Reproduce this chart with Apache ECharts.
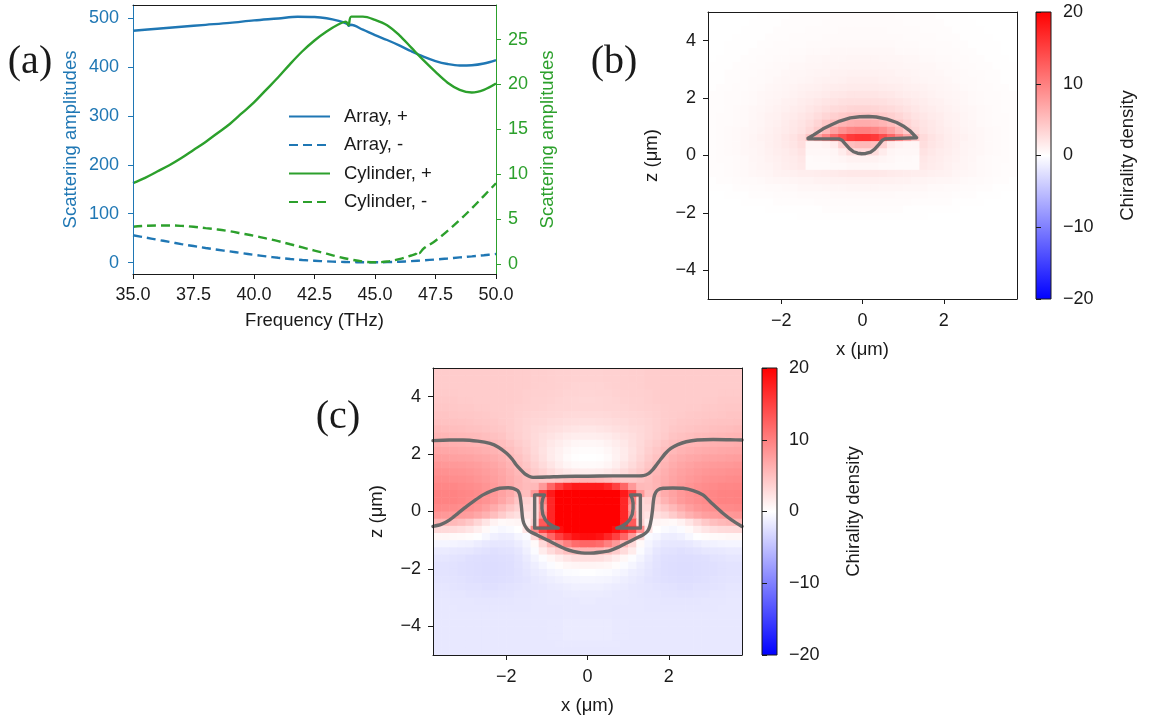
<!DOCTYPE html>
<html>
<head>
<meta charset="utf-8">
<script src="https://cdn.jsdelivr.net/npm/echarts@6/dist/echarts.min.js"></script>
<style>
  html, body { margin: 0; padding: 0; background: #ffffff; }
  #chart { width: 1156px; height: 724px; }
</style>
</head>
<body>
<div id="chart"></div>
<script>
// ---------- (a) scattering spectra ----------
const ARRAY_TICKS = [0, 100, 200, 300, 400, 500];
const CYL_TICKS = [0, 5, 10, 15, 20, 25];

const ARRAY_PLUS = [
  [35, 474], [36, 478], [37, 482], [38, 486], [39, 490], [40, 495], [41, 499],
  [41.8, 502.5], [42.5, 502], [43, 499.5], [43.5, 494], [43.85, 488], [43.92, 484],
  [44.0, 486], [44.5, 476], [45, 465], [45.5, 455], [46, 444], [46.5, 432], [47, 421],
  [47.5, 412], [48, 406], [48.5, 403], [49, 403.5], [49.5, 407], [50, 414]
];
const ARRAY_MINUS = [
  [35, 56], [35.5, 51.5], [36, 47], [36.5, 42.5], [37, 38], [37.5, 34], [38, 30],
  [38.5, 26.5], [39, 23], [39.5, 19.5], [40, 16], [40.5, 13], [41, 10], [41.5, 7.5],
  [42, 5.5], [42.5, 4], [43, 2.7], [43.5, 1.8], [44, 1.2], [44.5, 0.9], [45, 0.8],
  [45.5, 1.2], [46, 2], [46.5, 3.2], [47, 4.8], [47.5, 6.6], [48, 8.6], [48.5, 10.8],
  [49, 13], [49.5, 15.3], [50, 17.7]
];
const CYL_PLUS = [
  [35, 9.0], [35.5, 9.6], [36, 10.3], [36.5, 11.0], [37, 11.8], [37.5, 12.7], [38, 13.6],
  [38.5, 14.6], [39, 15.6], [39.5, 16.8], [40, 18.0], [40.5, 19.4], [41, 20.8], [41.5, 22.3],
  [42, 23.7], [42.5, 24.9], [43, 25.9], [43.5, 26.7], [43.8, 27.0], [43.9, 26.6],
  [44.02, 27.55], [44.5, 27.55], [45, 27.2], [45.5, 26.6], [46, 25.5], [46.5, 24.1],
  [47, 22.7], [47.5, 21.4], [48, 20.2], [48.5, 19.4], [49, 19.1], [49.5, 19.4], [50, 20.1]
];
const CYL_MINUS = [
  [35, 4.15], [35.5, 4.25], [36, 4.3], [36.5, 4.3], [37, 4.25], [37.5, 4.15], [38, 4.0],
  [38.5, 3.85], [39, 3.65], [39.5, 3.4], [40, 3.15], [40.5, 2.85], [41, 2.55], [41.5, 2.2],
  [42, 1.85], [42.5, 1.5], [43, 1.15], [43.5, 0.8], [44, 0.5], [44.5, 0.28], [45, 0.2],
  [45.5, 0.28], [46, 0.55], [46.5, 0.95], [46.7, 1.15], [46.78, 1.45], [46.82, 1.2],
  [47, 1.7], [47.5, 2.6], [48, 3.7], [48.5, 4.9], [49, 6.2], [49.5, 7.6], [50, 9.0]
];

// ---------- (b), (c) chirality density maps ----------
const X_TICKS = [-2, 0, 2];
const Z_TICKS = [-4, -2, 0, 2, 4];
const CBAR_TICKS = [-20, -10, 0, 10, 20];
const CBAR_RANGE = [-20, 20];
const BWR = ['#0000ff', '#ffffff', '#ff0000'];

const X_CENTERS = [-3.7, -3.5, -3.3, -3.1, -2.9, -2.7, -2.5, -2.3, -2.1, -1.9, -1.7, -1.5, -1.3,
  -1.1, -0.9, -0.7, -0.5, -0.3, -0.1, 0.1, 0.3, 0.5, 0.7, 0.9, 1.1, 1.3, 1.5, 1.7, 1.9, 2.1,
  2.3, 2.5, 2.7, 2.9, 3.1, 3.3, 3.5, 3.7];
const Z_CENTERS = [4.875, 4.625, 4.375, 4.125, 3.875, 3.625, 3.375, 3.125, 2.875, 2.625,
  2.375, 2.125, 1.875, 1.625, 1.375, 1.125, 0.875, 0.625, 0.375, 0.125,
  -0.125, -0.375, -0.625, -0.875, -1.125, -1.375, -1.625, -1.875, -2.125, -2.375,
  -2.625, -2.875, -3.125, -3.375, -3.625, -3.875, -4.125, -4.375, -4.625, -4.875];

// single cylinder (rows top to bottom, columns left to right)
const FIELD_B = [
  [0,0,0,0,0,0,0.1,0.1,0.1,0.1,0.2,0.2,0.2,0.2,0.2,0.3,0.3,0.3,0.3,0.3,0.3,0.3,0.3,0.2,0.2,0.2,0.2,0.2,0.1,0.1,0.1,0.1,0,0,0,0,0,0],
  [0,0,0,0,0,0.1,0.1,0.1,0.1,0.2,0.2,0.2,0.2,0.2,0.3,0.3,0.3,0.3,0.3,0.3,0.3,0.3,0.3,0.3,0.2,0.2,0.2,0.2,0.2,0.1,0.1,0.1,0.1,0,0,0,0,0],
  [0,0,0,0,0.1,0.1,0.1,0.1,0.2,0.2,0.2,0.2,0.3,0.3,0.3,0.3,0.4,0.4,0.4,0.4,0.4,0.4,0.3,0.3,0.3,0.3,0.2,0.2,0.2,0.2,0.1,0.1,0.1,0.1,0,0,0,0],
  [0,0,0,0.1,0.1,0.1,0.1,0.2,0.2,0.2,0.3,0.3,0.3,0.3,0.4,0.4,0.4,0.4,0.4,0.4,0.4,0.4,0.4,0.4,0.3,0.3,0.3,0.3,0.2,0.2,0.2,0.1,0.1,0.1,0.1,0,0,0],
  [0,0,0.1,0.1,0.1,0.1,0.2,0.2,0.3,0.3,0.3,0.3,0.4,0.4,0.4,0.5,0.5,0.5,0.5,0.5,0.5,0.5,0.5,0.4,0.4,0.4,0.3,0.3,0.3,0.3,0.2,0.2,0.1,0.1,0.1,0.1,0,0],
  [0,0,0.1,0.1,0.1,0.2,0.2,0.3,0.3,0.3,0.4,0.4,0.5,0.5,0.5,0.6,0.6,0.6,0.6,0.6,0.6,0.6,0.6,0.5,0.5,0.5,0.4,0.4,0.3,0.3,0.3,0.2,0.2,0.1,0.1,0.1,0,0],
  [0,0.1,0.1,0.1,0.2,0.2,0.3,0.3,0.4,0.4,0.5,0.5,0.6,0.6,0.7,0.7,0.7,0.8,0.8,0.8,0.8,0.7,0.7,0.7,0.6,0.6,0.5,0.5,0.4,0.4,0.3,0.3,0.2,0.2,0.1,0.1,0.1,0],
  [0.1,0.1,0.1,0.2,0.2,0.3,0.3,0.4,0.5,0.5,0.6,0.6,0.7,0.7,0.8,0.8,0.9,0.9,0.9,0.9,0.9,0.9,0.8,0.8,0.7,0.7,0.6,0.6,0.5,0.5,0.4,0.3,0.3,0.2,0.2,0.1,0.1,0.1],
  [0.1,0.1,0.2,0.2,0.3,0.3,0.4,0.5,0.5,0.6,0.7,0.7,0.8,0.9,0.9,1,1,1.1,1.1,1.1,1.1,1,1,0.9,0.9,0.8,0.7,0.7,0.6,0.5,0.5,0.4,0.3,0.3,0.2,0.2,0.1,0.1],
  [0.1,0.1,0.2,0.2,0.3,0.4,0.4,0.5,0.6,0.7,0.7,0.8,0.9,1,1.1,1.1,1.2,1.3,1.3,1.3,1.3,1.2,1.1,1.1,1,0.9,0.8,0.7,0.7,0.6,0.5,0.4,0.4,0.3,0.2,0.2,0.1,0.1],
  [0.1,0.2,0.2,0.3,0.3,0.4,0.5,0.6,0.7,0.8,0.9,1,1.1,1.2,1.3,1.4,1.5,1.6,1.6,1.6,1.6,1.5,1.4,1.3,1.2,1.1,1,0.9,0.8,0.7,0.6,0.5,0.4,0.3,0.3,0.2,0.2,0.1],
  [0.2,0.2,0.3,0.3,0.4,0.5,0.6,0.7,0.8,0.9,1,1.2,1.3,1.4,1.6,1.8,1.9,2,2,2,2,1.9,1.8,1.6,1.4,1.3,1.2,1,0.9,0.8,0.7,0.6,0.5,0.4,0.3,0.3,0.2,0.2],
  [0.2,0.2,0.3,0.3,0.4,0.5,0.6,0.8,0.9,1.1,1.2,1.4,1.6,1.8,2,2.2,2.4,2.5,2.5,2.5,2.5,2.4,2.2,2,1.8,1.6,1.4,1.2,1.1,0.9,0.8,0.6,0.5,0.4,0.3,0.3,0.2,0.2],
  [0.2,0.2,0.3,0.4,0.5,0.6,0.7,0.9,1,1.2,1.4,1.6,1.9,2.2,2.5,2.8,3,3.2,3.3,3.3,3.2,3,2.8,2.5,2.2,1.9,1.6,1.4,1.2,1,0.9,0.7,0.6,0.5,0.4,0.3,0.2,0.2],
  [0.2,0.3,0.3,0.4,0.5,0.6,0.8,1,1.1,1.4,1.6,1.9,2.2,2.7,3.2,3.7,4.1,4.4,4.5,4.5,4.4,4.1,3.7,3.2,2.7,2.2,1.9,1.6,1.4,1.1,1,0.8,0.6,0.5,0.4,0.3,0.3,0.2],
  [0.2,0.3,0.3,0.4,0.5,0.7,0.8,1,1.2,1.5,1.8,2.1,2.6,3.3,4.3,5.2,5.8,6.3,6.5,6.5,6.3,5.8,5.2,4.3,3.3,2.6,2.1,1.8,1.5,1.2,1,0.8,0.7,0.5,0.4,0.3,0.3,0.2],
  [0.2,0.3,0.4,0.5,0.6,0.7,0.9,1.1,1.3,1.6,1.9,2.3,3,4,5.6,7.3,8.6,9.6,10,10,9.6,8.6,7.3,5.6,4,3,2.3,1.9,1.6,1.3,1.1,0.9,0.7,0.6,0.5,0.4,0.3,0.2],
  [0.2,0.3,0.4,0.5,0.6,0.8,1,1.2,1.4,1.8,2.2,2.8,4.5,7,9.5,12,14,15.5,16,16,15.5,14,12,9.5,7,4.5,2.8,2.2,1.8,1.4,1.2,1,0.8,0.6,0.5,0.4,0.3,0.2],
  [0.2,0.3,0.4,0.5,0.6,0.8,0.9,1.2,1.4,1.7,2,2.6,0.8,0.8,1,1.5,3.5,5,5.5,5.5,5,3.5,1.5,1,0.8,0.8,2.6,2,1.7,1.4,1.2,0.9,0.8,0.6,0.5,0.4,0.3,0.2],
  [0.2,0.3,0.4,0.5,0.6,0.7,0.9,1.1,1.3,1.5,1.8,2.2,0.6,0.6,0.6,0.8,1.5,2.7,3,3,2.7,1.5,0.8,0.6,0.6,0.6,2.2,1.8,1.5,1.3,1.1,0.9,0.7,0.6,0.5,0.4,0.3,0.2],
  [0.2,0.3,0.3,0.4,0.5,0.7,0.8,1,1.2,1.4,1.6,1.9,0.4,0.5,0.5,0.6,0.8,1,1,1,1,0.8,0.6,0.5,0.5,0.4,1.9,1.6,1.4,1.2,1,0.8,0.7,0.5,0.4,0.3,0.3,0.2],
  [0.2,0.2,0.3,0.4,0.5,0.6,0.8,0.9,1.1,1.3,1.5,1.7,0.4,0.4,0.4,0.5,0.5,0.6,0.6,0.6,0.6,0.5,0.5,0.4,0.4,0.4,1.7,1.5,1.3,1.1,0.9,0.8,0.6,0.5,0.4,0.3,0.2,0.2],
  [0.2,0.2,0.3,0.4,0.5,0.6,0.7,0.8,1,1.1,1.2,1.3,1.3,1.4,1.5,1.6,1.7,1.8,1.8,1.8,1.8,1.7,1.6,1.5,1.4,1.3,1.3,1.2,1.1,1,0.8,0.7,0.6,0.5,0.4,0.3,0.2,0.2],
  [0.1,0.2,0.2,0.3,0.4,0.4,0.5,0.6,0.7,0.7,0.8,0.9,0.9,1,1,1.1,1.1,1.2,1.2,1.2,1.2,1.1,1.1,1,1,0.9,0.9,0.8,0.7,0.7,0.6,0.5,0.4,0.4,0.3,0.2,0.2,0.1],
  [0.1,0.1,0.1,0.2,0.2,0.3,0.3,0.4,0.4,0.5,0.5,0.6,0.6,0.6,0.7,0.7,0.7,0.8,0.8,0.8,0.8,0.7,0.7,0.7,0.6,0.6,0.6,0.5,0.5,0.4,0.4,0.3,0.3,0.2,0.2,0.1,0.1,0.1],
  [0,0,0.1,0.1,0.1,0.2,0.2,0.2,0.3,0.3,0.3,0.4,0.4,0.4,0.4,0.5,0.5,0.5,0.5,0.5,0.5,0.5,0.5,0.4,0.4,0.4,0.4,0.3,0.3,0.3,0.2,0.2,0.2,0.1,0.1,0.1,0,0],
  [0,0,0,0,0.1,0.1,0.1,0.1,0.2,0.2,0.2,0.2,0.2,0.3,0.3,0.3,0.3,0.3,0.3,0.3,0.3,0.3,0.3,0.3,0.3,0.2,0.2,0.2,0.2,0.2,0.1,0.1,0.1,0.1,0,0,0,0],
  [0,0,0,0,0,0,0,0.1,0.1,0.1,0.1,0.1,0.1,0.1,0.2,0.2,0.2,0.2,0.2,0.2,0.2,0.2,0.2,0.2,0.1,0.1,0.1,0.1,0.1,0.1,0.1,0,0,0,0,0,0,0],
  [0,0,0,0,0,0,0,0,0,0,0,0.1,0.1,0.1,0.1,0.1,0.1,0.1,0.1,0.1,0.1,0.1,0.1,0.1,0.1,0.1,0.1,0,0,0,0,0,0,0,0,0,0,0],
  [0,0,0,0,0,0,0,0,0,0,0,0,0,0,0,0,0,0,0,0,0,0,0,0,0,0,0,0,0,0,0,0,0,0,0,0,0,0],
  [0,0,0,0,0,0,0,0,0,0,0,0,0,0,0,0,0,0,0,0,0,0,0,0,0,0,0,0,0,0,0,0,0,0,0,0,0,0],
  [0,0,0,0,0,0,0,0,0,0,0,0,0,0,0,0,0,0,0,0,0,0,0,0,0,0,0,0,0,0,0,0,0,0,0,0,0,0],
  [0,0,0,0,0,0,0,0,0,0,0,0,0,0,0,0,0,0,0,0,0,0,0,0,0,0,0,0,0,0,0,0,0,0,0,0,0,0],
  [0,0,0,0,0,0,0,0,0,0,0,0,0,0,0,0,0,0,0,0,0,0,0,0,0,0,0,0,0,0,0,0,0,0,0,0,0,0],
  [0,0,0,0,0,0,0,0,0,0,0,0,0,0,0,0,0,0,0,0,0,0,0,0,0,0,0,0,0,0,0,0,0,0,0,0,0,0],
  [0,0,0,0,0,0,0,0,0,0,0,0,0,0,0,0,0,0,0,0,0,0,0,0,0,0,0,0,0,0,0,0,0,0,0,0,0,0],
  [0,0,0,0,0,0,0,0,0,0,0,0,0,0,0,0,0,0,0,0,0,0,0,0,0,0,0,0,0,0,0,0,0,0,0,0,0,0],
  [0,0,0,0,0,0,0,0,0,0,0,0,0,0,0,0,0,0,0,0,0,0,0,0,0,0,0,0,0,0,0,0,0,0,0,0,0,0],
  [0,0,0,0,0,0,0,0,0,0,0,0,0,0,0,0,0,0,0,0,0,0,0,0,0,0,0,0,0,0,0,0,0,0,0,0,0,0],
  [0,0,0,0,0,0,0,0,0,0,0,0,0,0,0,0,0,0,0,0,0,0,0,0,0,0,0,0,0,0,0,0,0,0,0,0,0,0]
];

// cylinder inside the array (rows top to bottom, columns left to right)
const FIELD_C = [
  [4,4,4,4,4,4,4,4,4,4,3.9,3.9,3.8,3.8,3.7,3.6,3.6,3.5,3.5,3.5,3.5,3.6,3.6,3.7,3.8,3.8,3.9,3.9,4,4,4,4,4,4,4,4,4,4],
  [4,4,4,4,4,4,4,4,4,4,3.9,3.9,3.8,3.8,3.7,3.6,3.6,3.5,3.5,3.5,3.5,3.6,3.6,3.7,3.8,3.8,3.9,3.9,4,4,4,4,4,4,4,4,4,4],
  [4,4,4,4,4,4,4,4,4,4,3.9,3.9,3.8,3.7,3.7,3.6,3.5,3.4,3.4,3.4,3.4,3.5,3.6,3.7,3.7,3.8,3.9,3.9,4,4,4,4,4,4,4,4,4,4],
  [4.1,4.1,4.1,4,4,4,4,4,4,4,3.9,3.8,3.7,3.7,3.6,3.5,3.4,3.4,3.3,3.3,3.4,3.4,3.5,3.6,3.7,3.7,3.8,3.9,4,4,4,4,4,4,4,4.1,4.1,4.1],
  [4.2,4.2,4.2,4.1,4.1,4,4,4,4,4,3.9,3.8,3.6,3.6,3.5,3.4,3.3,3.2,3.1,3.1,3.2,3.3,3.4,3.5,3.6,3.6,3.8,3.9,4,4,4,4,4,4.1,4.1,4.2,4.2,4.2],
  [4.4,4.4,4.3,4.2,4.2,4.1,4.1,4,4,3.9,3.8,3.7,3.6,3.5,3.4,3.3,3.3,3.2,3.2,3.2,3.2,3.3,3.3,3.4,3.5,3.6,3.7,3.8,3.9,4,4,4.1,4.1,4.2,4.2,4.3,4.4,4.4],
  [4.6,4.6,4.5,4.4,4.4,4.3,4.2,4.1,4,3.9,3.7,3.5,3.4,3.3,3.2,3.1,3,2.9,2.9,2.9,2.9,3,3.1,3.2,3.3,3.4,3.5,3.7,3.9,4,4.1,4.2,4.3,4.4,4.4,4.5,4.6,4.6],
  [4.9,4.8,4.8,4.7,4.6,4.5,4.4,4.3,4.1,3.9,3.6,3.4,3.2,3.1,2.9,2.8,2.7,2.6,2.5,2.5,2.6,2.7,2.8,2.9,3.1,3.2,3.4,3.6,3.9,4.1,4.3,4.4,4.5,4.6,4.7,4.8,4.8,4.9],
  [5.3,5.2,5.1,5,4.9,4.8,4.6,4.5,4.3,3.9,3.6,3.3,3,2.8,2.6,2.4,2.2,2,1.9,1.9,2,2.2,2.4,2.6,2.8,3,3.3,3.6,3.9,4.3,4.5,4.6,4.8,4.9,5,5.1,5.2,5.3],
  [5.8,5.7,5.6,5.5,5.4,5.3,5.1,4.9,4.6,4.1,3.7,3.3,2.9,2.5,2.2,1.9,1.6,1.4,1.3,1.3,1.4,1.6,1.9,2.2,2.5,2.9,3.3,3.7,4.1,4.6,4.9,5.1,5.3,5.4,5.5,5.6,5.7,5.8],
  [6.4,6.3,6.2,6.1,6,5.8,5.7,5.4,5.1,4.6,4,3.5,2.9,2.4,1.8,1.4,1,0.7,0.6,0.6,0.7,1,1.4,1.8,2.4,2.9,3.5,4,4.6,5.1,5.4,5.7,5.8,6,6.1,6.2,6.3,6.4],
  [7,6.9,6.8,6.7,6.6,6.4,6.2,6,5.6,5,4.4,3.8,3,2.3,1.6,1.1,0.6,0.3,0.2,0.2,0.3,0.6,1.1,1.6,2.3,3,3.8,4.4,5,5.6,6,6.2,6.4,6.6,6.7,6.8,6.9,7],
  [7.6,7.5,7.4,7.3,7.2,7,6.8,6.5,6.1,5.5,4.8,4.1,3.2,2.4,1.6,1,0.4,0.1,0,0,0.1,0.4,1,1.6,2.4,3.2,4.1,4.8,5.5,6.1,6.5,6.8,7,7.2,7.3,7.4,7.5,7.6],
  [8.2,8.1,8,7.9,7.8,7.6,7.3,7,6.5,5.9,5.2,4.5,3.6,2.8,2,1.3,0.8,0.5,0.4,0.4,0.5,0.8,1.3,2,2.8,3.6,4.5,5.2,5.9,6.5,7,7.3,7.6,7.8,7.9,8,8.1,8.2],
  [8.7,8.6,8.5,8.4,8.2,8,7.7,7.4,6.9,6.3,5.6,5,4.1,3.5,2.8,2.2,1.8,1.5,1.4,1.4,1.5,1.8,2.2,2.8,3.5,4.1,5,5.6,6.3,6.9,7.4,7.7,8,8.2,8.4,8.5,8.6,8.7],
  [9.1,9,8.9,8.8,8.6,8.3,8,7.6,7.1,6.5,5.9,5.2,4.6,4.3,4.3,4.6,5.2,5.6,5.8,5.8,5.6,5.2,4.6,4.3,4.3,4.6,5.2,5.9,6.5,7.1,7.6,8,8.3,8.6,8.8,8.9,9,9.1],
  [9.5,9.4,9.4,9.2,9,8.8,8.4,7.9,7.3,6.7,5.8,5.3,5.5,8,12,15,17,18,18,18,18,17,15,12,8,5.5,5.3,5.8,6.7,7.3,7.9,8.4,8.8,9,9.2,9.4,9.4,9.5],
  [9.8,9.7,9.7,9.5,9.3,9,8.6,8.1,7.3,6.6,5.3,5,8,15,18,20,20,20,20,20,20,20,20,18,15,8,5,5.3,6.6,7.3,8.1,8.6,9,9.3,9.5,9.7,9.7,9.8],
  [9.8,9.7,9.7,9.5,9.2,8.9,8.5,7.9,7,6,4.5,3.5,3,10,17,20,20,20,20,20,20,20,20,17,10,3,3.5,4.5,6,7,7.9,8.5,8.9,9.2,9.5,9.7,9.7,9.8],
  [9.3,9.2,9.1,8.9,8.6,8.2,7.5,6.6,5.5,4.5,3.5,3,3,8,17,20,20,20,20,20,20,20,20,17,8,3,3,3.5,4.5,5.5,6.6,7.5,8.2,8.6,8.9,9.1,9.2,9.3],
  [8.2,8.1,8,7.8,7.5,6.9,6.1,5.1,4,3,2.4,2.2,3,9,17,20,20,20,20,20,20,20,20,17,9,3,2.2,2.4,3,4,5.1,6.1,6.9,7.5,7.8,8,8.1,8.2],
  [6,5.8,5.5,5,4.3,3.2,2,1,0.5,0.6,0.8,1.2,3.5,13,17,20,20,20,20,20,20,20,20,17,13,3.5,1.2,0.8,0.6,0.5,1,2,3.2,4.3,5,5.5,5.8,6],
  [3,2.9,2.8,2.5,2,1.3,0.5,-0.3,-0.6,-0.4,0,2,9,15,17,19,20,20,20,20,20,20,19,17,15,9,2,0,-0.4,-0.6,-0.3,0.5,1.3,2,2.5,2.8,2.9,3],
  [0.6,0.6,0.5,0.4,0.2,-0.1,-0.6,-1.2,-1.4,-1.3,-0.8,-0.4,3,8,12,15,17,18.5,19,19,18.5,17,15,12,8,3,-0.4,-0.8,-1.3,-1.4,-1.2,-0.6,-0.1,0.2,0.4,0.5,0.6,0.6],
  [-0.8,-0.8,-0.9,-1,-1.1,-1.4,-1.7,-1.9,-1.9,-1.8,-1.4,-0.8,0.4,3,5.5,8,10,11.5,12,12,11.5,10,8,5.5,3,0.4,-0.8,-1.4,-1.8,-1.9,-1.9,-1.7,-1.4,-1.1,-1,-0.9,-0.8,-0.8],
  [-1.6,-1.6,-1.7,-1.8,-1.9,-2.1,-2.3,-2.4,-2.3,-2.2,-1.9,-1.2,-0.3,1.5,2.8,4,5,5.8,6,6,5.8,5,4,2.8,1.5,-0.3,-1.2,-1.9,-2.2,-2.3,-2.4,-2.3,-2.1,-1.9,-1.8,-1.7,-1.6,-1.6],
  [-2,-2,-2.1,-2.2,-2.4,-2.5,-2.6,-2.6,-2.5,-2.4,-2.1,-1.6,-0.9,-0.2,0.6,1.3,2,2.5,2.6,2.6,2.5,2,1.3,0.6,-0.2,-0.9,-1.6,-2.1,-2.4,-2.5,-2.6,-2.6,-2.5,-2.4,-2.2,-2.1,-2,-2],
  [-2.2,-2.2,-2.3,-2.4,-2.5,-2.6,-2.7,-2.7,-2.6,-2.5,-2.2,-1.8,-1.3,-0.8,-0.3,0.2,0.6,0.8,0.9,0.9,0.8,0.6,0.2,-0.3,-0.8,-1.3,-1.8,-2.2,-2.5,-2.6,-2.7,-2.7,-2.6,-2.5,-2.4,-2.3,-2.2,-2.2],
  [-2.2,-2.2,-2.3,-2.4,-2.5,-2.6,-2.7,-2.7,-2.6,-2.5,-2.3,-2,-1.6,-1.3,-0.9,-0.6,-0.3,-0.2,-0.1,-0.1,-0.2,-0.3,-0.6,-0.9,-1.3,-1.6,-2,-2.3,-2.5,-2.6,-2.7,-2.7,-2.6,-2.5,-2.4,-2.3,-2.2,-2.2],
  [-2.1,-2.1,-2.2,-2.3,-2.4,-2.5,-2.6,-2.6,-2.5,-2.4,-2.3,-2.1,-1.8,-1.6,-1.3,-1.1,-0.9,-0.8,-0.7,-0.7,-0.8,-0.9,-1.1,-1.3,-1.6,-1.8,-2.1,-2.3,-2.4,-2.5,-2.6,-2.6,-2.5,-2.4,-2.3,-2.2,-2.1,-2.1],
  [-2,-2,-2.1,-2.2,-2.3,-2.3,-2.4,-2.4,-2.3,-2.2,-2.1,-2,-1.9,-1.8,-1.6,-1.5,-1.3,-1.2,-1.2,-1.2,-1.2,-1.3,-1.5,-1.6,-1.8,-1.9,-2,-2.1,-2.2,-2.3,-2.4,-2.4,-2.3,-2.3,-2.2,-2.1,-2,-2],
  [-1.9,-1.9,-2,-2,-2.1,-2.1,-2.2,-2.2,-2.1,-2.1,-2,-2,-1.9,-1.8,-1.7,-1.7,-1.6,-1.5,-1.5,-1.5,-1.5,-1.6,-1.7,-1.7,-1.8,-1.9,-2,-2,-2.1,-2.1,-2.2,-2.2,-2.1,-2.1,-2,-2,-1.9,-1.9],
  [-1.8,-1.8,-1.9,-1.9,-1.9,-2,-2,-2,-2,-2,-1.9,-1.9,-1.8,-1.8,-1.7,-1.7,-1.7,-1.7,-1.6,-1.6,-1.7,-1.7,-1.7,-1.7,-1.8,-1.8,-1.9,-1.9,-2,-2,-2,-2,-2,-1.9,-1.9,-1.9,-1.8,-1.8],
  [-1.8,-1.8,-1.8,-1.9,-1.9,-1.9,-1.9,-1.9,-1.9,-1.9,-1.9,-1.9,-1.8,-1.8,-1.8,-1.8,-1.7,-1.7,-1.7,-1.7,-1.7,-1.7,-1.8,-1.8,-1.8,-1.8,-1.9,-1.9,-1.9,-1.9,-1.9,-1.9,-1.9,-1.9,-1.9,-1.8,-1.8,-1.8],
  [-1.8,-1.8,-1.8,-1.8,-1.8,-1.8,-1.8,-1.8,-1.8,-1.8,-1.8,-1.8,-1.8,-1.8,-1.8,-1.8,-1.7,-1.7,-1.7,-1.7,-1.7,-1.7,-1.8,-1.8,-1.8,-1.8,-1.8,-1.8,-1.8,-1.8,-1.8,-1.8,-1.8,-1.8,-1.8,-1.8,-1.8,-1.8],
  [-1.8,-1.8,-1.8,-1.8,-1.8,-1.8,-1.8,-1.8,-1.8,-1.8,-1.8,-1.8,-1.8,-1.8,-1.7,-1.7,-1.6,-1.6,-1.6,-1.6,-1.6,-1.6,-1.7,-1.7,-1.8,-1.8,-1.8,-1.8,-1.8,-1.8,-1.8,-1.8,-1.8,-1.8,-1.8,-1.8,-1.8,-1.8],
  [-1.8,-1.8,-1.8,-1.8,-1.8,-1.8,-1.8,-1.8,-1.8,-1.8,-1.8,-1.8,-1.8,-1.8,-1.7,-1.7,-1.6,-1.6,-1.6,-1.6,-1.6,-1.6,-1.7,-1.7,-1.8,-1.8,-1.8,-1.8,-1.8,-1.8,-1.8,-1.8,-1.8,-1.8,-1.8,-1.8,-1.8,-1.8],
  [-1.8,-1.8,-1.8,-1.8,-1.8,-1.8,-1.8,-1.8,-1.8,-1.8,-1.8,-1.8,-1.8,-1.8,-1.7,-1.7,-1.6,-1.6,-1.6,-1.6,-1.6,-1.6,-1.7,-1.7,-1.8,-1.8,-1.8,-1.8,-1.8,-1.8,-1.8,-1.8,-1.8,-1.8,-1.8,-1.8,-1.8,-1.8],
  [-1.8,-1.8,-1.8,-1.8,-1.8,-1.8,-1.8,-1.8,-1.8,-1.8,-1.8,-1.8,-1.8,-1.8,-1.8,-1.7,-1.7,-1.7,-1.7,-1.7,-1.7,-1.7,-1.7,-1.8,-1.8,-1.8,-1.8,-1.8,-1.8,-1.8,-1.8,-1.8,-1.8,-1.8,-1.8,-1.8,-1.8,-1.8],
  [-1.8,-1.8,-1.8,-1.8,-1.8,-1.8,-1.8,-1.8,-1.8,-1.8,-1.8,-1.8,-1.8,-1.8,-1.8,-1.8,-1.8,-1.8,-1.8,-1.8,-1.8,-1.8,-1.8,-1.8,-1.8,-1.8,-1.8,-1.8,-1.8,-1.8,-1.8,-1.8,-1.8,-1.8,-1.8,-1.8,-1.8,-1.8]
];

// outlines (x, z in µm)
const DOME_B = [
  [-1.34, 0.60], [-1.2, 0.72], [-0.97, 0.93], [-0.75, 1.08], [-0.56, 1.2], [-0.3, 1.31],
  [-0.07, 1.35], [0.15, 1.36], [0.34, 1.34], [0.6, 1.27], [0.84, 1.15], [1.0, 1.03],
  [1.16, 0.87], [1.33, 0.62], [1.33, 0.58], [0.55, 0.58], [0.48, 0.52], [0.4, 0.38],
  [0.3, 0.22], [0.2, 0.12], [0.08, 0.07], [-0.02, 0.06], [-0.12, 0.08], [-0.22, 0.13],
  [-0.32, 0.24], [-0.42, 0.4], [-0.5, 0.53], [-0.58, 0.58], [-1.34, 0.58], [-1.34, 0.60]
];
const UPPER_C = [
  [-3.8, 2.47], [-3.4, 2.49], [-3.06, 2.49], [-2.7, 2.45], [-2.4, 2.37], [-2.2, 2.25],
  [-1.99, 2.03], [-1.85, 1.82], [-1.75, 1.62], [-1.64, 1.45], [-1.54, 1.31], [-1.44, 1.23],
  [-1.34, 1.19], [-1.0, 1.2], [-0.6, 1.22], [0, 1.23], [0.6, 1.24], [1.1, 1.24], [1.37, 1.25],
  [1.5, 1.32], [1.6, 1.45], [1.7, 1.63], [1.8, 1.82], [1.92, 2.03], [2.05, 2.2], [2.22, 2.33],
  [2.43, 2.43], [2.7, 2.49], [3.09, 2.51], [3.5, 2.5], [3.8, 2.49]
];
const MIDDLE_C = [
  [-3.8, -0.52], [-3.6, -0.45], [-3.39, -0.29], [-3.2, -0.08], [-2.98, 0.17], [-2.78, 0.38],
  [-2.57, 0.58], [-2.36, 0.72], [-2.16, 0.81], [-1.95, 0.83], [-1.83, 0.81], [-1.72, 0.73],
  [-1.67, 0.6], [-1.64, 0.35], [-1.62, 0.1], [-1.6, -0.2], [-1.57, -0.4], [-1.5, -0.58],
  [-1.42, -0.69], [-1.3, -0.78], [-1.17, -0.87], [-0.95, -1.02], [-0.76, -1.16], [-0.55, -1.3],
  [-0.35, -1.39], [-0.15, -1.44], [0.06, -1.45], [0.3, -1.42], [0.55, -1.36], [0.76, -1.24],
  [0.96, -1.1], [1.17, -0.95], [1.37, -0.81], [1.48, -0.68], [1.53, -0.52], [1.57, -0.25],
  [1.6, 0.06], [1.62, 0.35], [1.65, 0.58], [1.72, 0.74], [1.86, 0.81], [2.1, 0.82],
  [2.35, 0.81], [2.6, 0.73], [2.84, 0.58], [3.05, 0.3], [3.33, -0.06], [3.55, -0.3], [3.8, -0.52]
];
const LEFT_BRACKET_C = [
  [-1.3, 0.58], [-1.06, 0.58], [-1.1, 0.45], [-1.12, 0.3], [-1.12, 0.1], [-1.1, -0.1],
  [-1.04, -0.28], [-0.95, -0.42], [-0.84, -0.52], [-0.72, -0.58], [-1.3, -0.58], [-1.3, 0.58]
];
const RIGHT_BRACKET_C = [
  [1.3, 0.58], [1.06, 0.58], [1.1, 0.45], [1.12, 0.3], [1.12, 0.1], [1.1, -0.1],
  [1.04, -0.28], [0.95, -0.42], [0.84, -0.52], [0.72, -0.58], [1.3, -0.58], [1.3, 0.58]
];

// ---------- styling ----------
const FONT = 'Liberation Sans';
const FS = 18;
const FS_NAME = 18.5;
const INK = '#1a1a1a';
const BLUE = '#1f77b4';
const GREEN = '#2ca02c';
const OUTLINE = '#696969';
const CELL_DX = X_CENTERS[1] - X_CENTERS[0];
const CELL_DZ = Z_CENTERS[0] - Z_CENTERS[1];

const minus = v => String(v).replace('-', '\u2212');

function fieldCells(field) {
  const out = [];
  field.forEach((row, i) => row.forEach((v, j) => out.push([X_CENTERS[j], Z_CENTERS[i], v])));
  return out;
}

function renderCell(params, api) {
  const x = api.value(0), z = api.value(1);
  const a = api.coord([x - CELL_DX / 2, z + CELL_DZ / 2]);
  const b = api.coord([x + CELL_DX / 2, z - CELL_DZ / 2]);
  return {
    type: 'rect',
    shape: { x: a[0], y: a[1], width: b[0] - a[0] + 0.6, height: b[1] - a[1] + 0.6 },
    style: { fill: api.visual('color') }
  };
}

function renderColorbar(params, api) {
  const a = api.coord([0, api.value(1)]);
  const b = api.coord([1, api.value(0)]);
  return {
    type: 'rect',
    shape: { x: a[0], y: a[1], width: b[0] - a[0], height: b[1] - a[1] },
    style: {
      fill: new echarts.graphic.LinearGradient(0, 0, 0, 1, [
        { offset: 0, color: BWR[2] }, { offset: 0.5, color: BWR[1] }, { offset: 1, color: BWR[0] }
      ]),
      stroke: INK, lineWidth: 1
    }
  };
}

const labelStyle = (extra) => Object.assign({ fontFamily: FONT, fontSize: FS, color: INK }, extra || {});
const nameStyle = (extra) => Object.assign({ fontFamily: FONT, fontSize: FS_NAME, color: INK }, extra || {});
const spine = (gridIndex, position, min, max) => ({
  gridIndex, type: 'value', position, min, max, z: 10,
  axisLine: { show: true, onZero: false, lineStyle: { color: INK, width: 1 } },
  axisTick: { show: false }, axisLabel: { show: false }, splitLine: { show: false }
});

function mapAxes(gridIndex) {
  const xs = [
    {
      gridIndex, type: 'value', min: -3.8, max: 3.8, z: 10,
      axisLine: { onZero: false, lineStyle: { color: INK, width: 1 } },
      axisTick: { length: 5, customValues: X_TICKS, lineStyle: { color: INK } },
      axisLabel: labelStyle({ customValues: X_TICKS, formatter: minus, margin: 13 }),
      splitLine: { show: false },
      name: 'x (μm)', nameLocation: 'middle', nameGap: 41, nameTextStyle: nameStyle()
    },
    spine(gridIndex, 'top', -3.8, 3.8)
  ];
  const ys = [
    {
      gridIndex, type: 'value', min: -5, max: 5, z: 10,
      axisLine: { onZero: false, lineStyle: { color: INK, width: 1 } },
      axisTick: { length: 5, customValues: Z_TICKS, lineStyle: { color: INK } },
      axisLabel: labelStyle({ customValues: Z_TICKS, formatter: minus, margin: 12 }),
      splitLine: { show: false },
      name: 'z (μm)', nameLocation: 'middle', nameGap: 47, nameRotate: 90, nameTextStyle: nameStyle()
    },
    spine(gridIndex, 'right', -5, 5)
  ];
  return { xs, ys };
}

function colorbarAxes(gridIndex) {
  return {
    x: { gridIndex, type: 'value', min: 0, max: 1, show: false },
    y: {
      gridIndex, type: 'value', position: 'right', min: CBAR_RANGE[0], max: CBAR_RANGE[1], z: 10,
      axisLine: { show: false },
      axisTick: { show: true, length: 5, customValues: CBAR_TICKS, lineStyle: { color: INK } },
      axisLabel: labelStyle({ customValues: CBAR_TICKS, formatter: minus, margin: 12 }),
      splitLine: { show: false },
      name: 'Chirality density', nameLocation: 'middle', nameGap: 67, nameRotate: 90,
      nameTextStyle: nameStyle()
    }
  };
}

const mapB = mapAxes(1);
const cbarB = colorbarAxes(2);
const mapC = mapAxes(3);
const cbarC = colorbarAxes(4);

const xAxis = [
  {
    gridIndex: 0, type: 'value', min: 35, max: 50, interval: 2.5, z: 10,
    axisLine: { onZero: false, lineStyle: { color: INK, width: 1 } },
    axisTick: { length: 5, lineStyle: { color: INK } },
    axisLabel: labelStyle({ formatter: v => v.toFixed(1), margin: 12 }),
    splitLine: { show: false },
    name: 'Frequency (THz)', nameLocation: 'middle', nameGap: 37, nameTextStyle: nameStyle()
  },
  spine(0, 'top', 35, 50),
  mapB.xs[0], mapB.xs[1], cbarB.x,
  mapC.xs[0], mapC.xs[1], cbarC.x
];
const yAxis = [
  {
    gridIndex: 0, type: 'value', position: 'left', min: -23.1, max: 526.5, z: 10,
    axisLine: { show: true, onZero: false, lineStyle: { color: BLUE, width: 1 } },
    axisTick: { show: true, length: 5, customValues: ARRAY_TICKS, lineStyle: { color: BLUE } },
    axisLabel: labelStyle({ customValues: ARRAY_TICKS, color: BLUE, margin: 14 }),
    splitLine: { show: false },
    name: 'Scattering amplitudes', nameLocation: 'middle', nameGap: 53, nameRotate: 90,
    nameTextStyle: nameStyle({ color: BLUE })
  },
  {
    gridIndex: 0, type: 'value', position: 'right', min: -1.11, max: 28.85, z: 10,
    axisLine: { show: true, onZero: false, lineStyle: { color: GREEN, width: 1 } },
    axisTick: { show: true, length: 5, customValues: CYL_TICKS, lineStyle: { color: GREEN } },
    axisLabel: labelStyle({ customValues: CYL_TICKS, color: GREEN, margin: 12 }),
    splitLine: { show: false },
    name: 'Scattering amplitudes', nameLocation: 'middle', nameGap: 42, nameRotate: 90,
    nameTextStyle: nameStyle({ color: GREEN })
  },
  mapB.ys[0], mapB.ys[1], cbarB.y,
  mapC.ys[0], mapC.ys[1], cbarC.y
];

const spectrum = (name, data, yAxisIndex, color, dashed) => ({
  name, type: 'line', data, xAxisIndex: 0, yAxisIndex,
  symbol: 'none', smooth: 0.35,
  lineStyle: { color, width: 2.4, type: dashed ? [9, 5] : 'solid' },
  itemStyle: { color }, z: 3
});
const outline = (data, xAxisIndex, yAxisIndex, smooth) => ({
  type: 'line', data, xAxisIndex, yAxisIndex, symbol: 'none', smooth: smooth || false,
  silent: true, z: 5,
  lineStyle: { color: OUTLINE, width: 3.4, join: 'round', cap: 'round' }
});

const series = [
  spectrum('Array, +', ARRAY_PLUS, 0, BLUE, false),
  spectrum('Array, -', ARRAY_MINUS, 0, BLUE, true),
  spectrum('Cylinder, +', CYL_PLUS, 1, GREEN, false),
  spectrum('Cylinder, -', CYL_MINUS, 1, GREEN, true)
];
const fieldSeriesIdx = [];
fieldSeriesIdx.push(series.length);
series.push({ type: 'custom', xAxisIndex: 2, yAxisIndex: 2, data: fieldCells(FIELD_B),
  encode: { x: 0, y: 1 }, renderItem: renderCell, clip: true, silent: true, z: 1 });
series.push(outline(DOME_B, 2, 2));
series.push({ type: 'custom', xAxisIndex: 4, yAxisIndex: 4, data: [CBAR_RANGE],
  renderItem: renderColorbar, silent: true, z: 1 });
fieldSeriesIdx.push(series.length);
series.push({ type: 'custom', xAxisIndex: 5, yAxisIndex: 5, data: fieldCells(FIELD_C),
  encode: { x: 0, y: 1 }, renderItem: renderCell, clip: true, silent: true, z: 1 });
series.push(outline(UPPER_C, 5, 5, 0.25));
series.push(outline(MIDDLE_C, 5, 5, 0.25));
series.push(outline(LEFT_BRACKET_C, 5, 5));
series.push(outline(RIGHT_BRACKET_C, 5, 5));
series.push({ type: 'custom', xAxisIndex: 7, yAxisIndex: 7, data: [CBAR_RANGE],
  renderItem: renderColorbar, silent: true, z: 1 });

const tag = (text, x, y) => ({
  type: 'text', x, y, silent: true,
  style: { text, fill: INK, font: '40px "Liberation Serif"', textAlign: 'center', textVerticalAlign: 'middle' }
});

const chart = echarts.init(document.getElementById('chart'), null, { renderer: 'canvas', width: 1156, height: 724 });
chart.setOption({
  animation: false,
  backgroundColor: '#ffffff',
  textStyle: { fontFamily: FONT },
  grid: [
    { left: 133, top: 5, width: 363, height: 269, outerBoundsMode: 'none' },
    { left: 708, top: 12, width: 309, height: 287, outerBoundsMode: 'none' },
    { left: 1036, top: 12, width: 15, height: 287, outerBoundsMode: 'none' },
    { left: 433, top: 368, width: 309, height: 287, outerBoundsMode: 'none' },
    { left: 762, top: 368, width: 15, height: 287, outerBoundsMode: 'none' }
  ],
  xAxis, yAxis,
  visualMap: [{
    type: 'continuous', show: false, dimension: 2, seriesIndex: fieldSeriesIdx,
    min: CBAR_RANGE[0], max: CBAR_RANGE[1], inRange: { color: BWR }
  }],
  legend: {
    data: ['Array, +', 'Array, -', 'Cylinder, +', 'Cylinder, -'],
    orient: 'vertical', left: 288, top: 107, padding: 0,
    itemWidth: 41, itemHeight: 14, itemGap: 9.5,
    itemStyle: { opacity: 0 },
    textStyle: { fontFamily: FONT, fontSize: FS_NAME, color: INK, padding: [0, 0, 0, 9] }
  },
  graphic: [tag('(a)', 30, 62), tag('(b)', 614, 62), tag('(c)', 338, 417)],
  series
});
</script>
</body>
</html>
